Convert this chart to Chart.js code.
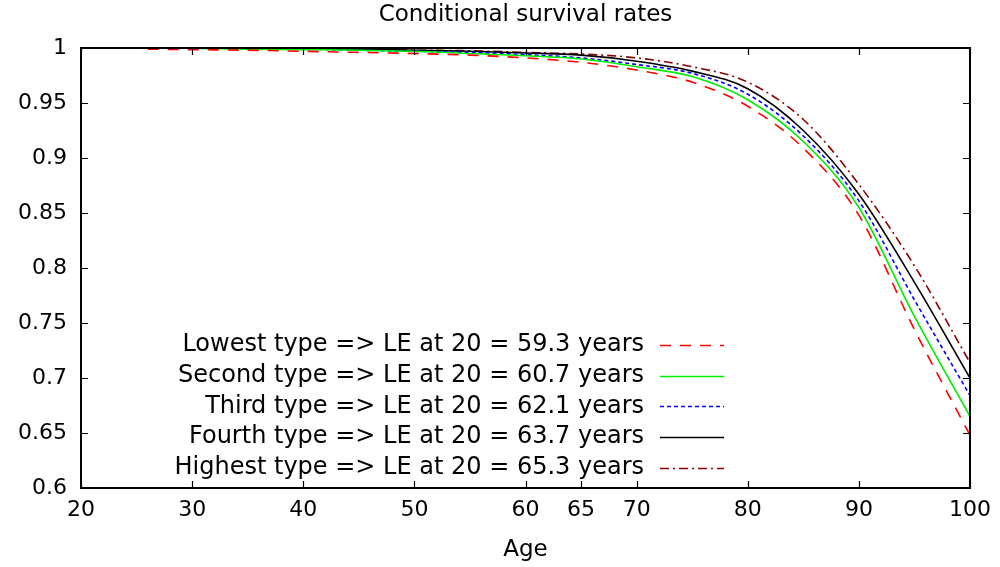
<!DOCTYPE html>
<html>
<head>
<meta charset="utf-8">
<script src="https://cdn.jsdelivr.net/npm/chart.js@4"></script>
<style>
  html, body { margin: 0; padding: 0; background: #fff; }
  #wrap { width: 1000px; height: 567px; }
</style>
</head>
<body>
<div id="wrap"><canvas id="survivalChart"></canvas></div>
<script>
// Conditional survival rates
const ages = [26, 30, 35, 40, 45, 50, 55, 60, 65, 70, 75, 80, 85, 90, 95, 100];
const lowest  = [0.999, 0.9985, 0.998, 0.997, 0.996, 0.995, 0.9935, 0.991, 0.987, 0.980, 0.969, 0.947, 0.909, 0.848, 0.744, 0.648];
const second  = [null, 0.9995, 0.999, 0.9985, 0.998, 0.997, 0.995, 0.993, 0.990, 0.983, 0.974, 0.953, 0.915, 0.855, 0.756, 0.665];
const third   = [null, null, 0.9995, 0.999, 0.998, 0.997, 0.996, 0.994, 0.991, 0.985, 0.977, 0.958, 0.920, 0.861, 0.771, 0.684];
const fourth  = [null, null, null, 0.9995, 0.999, 0.998, 0.997, 0.9955, 0.9935, 0.988, 0.979, 0.963, 0.925, 0.867, 0.787, 0.700];
const highest = [null, null, null, 0.9995, 0.999, 0.998, 0.9975, 0.996, 0.9945, 0.991, 0.983, 0.969, 0.935, 0.876, 0.802, 0.714];

const seriesLabels = [
  "Lowest type => LE at 20 = 59.3 years",
  "Second type => LE at 20 = 60.7 years",
  "Third type => LE at 20 = 62.1 years",
  "Fourth type => LE at 20 = 63.7 years",
  "Highest type => LE at 20 = 65.3 years",
];
const xTicks = [20, 30, 40, 50, 60, 65, 70, 80, 90, 100];

const FONT = "DejaVu Sans";

const toPoints = (vals) => ages.map((a, i) => ({ x: a, y: vals[i] }));

const styles = [
  { color: "#ff0000", dash: [11, 9] },
  { color: "#00ee00", dash: [] },
  { color: "#0000ff", dash: [4, 3] },
  { color: "#000000", dash: [] },
  { color: "#8b0000", dash: [9, 4, 2, 4] },
];

const datasets = [lowest, second, third, fourth, highest].map((vals, i) => ({
  label: seriesLabels[i],
  data: toPoints(vals),
  borderColor: styles[i].color,
  borderDash: styles[i].dash,
  borderWidth: 1.6,
  pointRadius: 0,
  fill: false,
  cubicInterpolationMode: "monotone",
  spanGaps: false,
}));

// gnuplot style frame with inward ticks (mirrored)
const framePlugin = {
  id: "frame",
  afterDraw(chart) {
    const { ctx, chartArea: a, scales } = chart;
    ctx.save();
    ctx.strokeStyle = "#000";
    ctx.lineWidth = 1.2;
    const t = 7;
    ctx.beginPath();
    scales.x.ticks.forEach((tk) => {
      const px = Math.round(scales.x.getPixelForValue(tk.value)) + 0.5;
      ctx.moveTo(px, a.bottom); ctx.lineTo(px, a.bottom - t);
      ctx.moveTo(px, a.top); ctx.lineTo(px, a.top + t);
    });
    scales.y.ticks.forEach((tk) => {
      const py = Math.round(scales.y.getPixelForValue(tk.value)) + 0.5;
      ctx.moveTo(a.left, py); ctx.lineTo(a.left + t, py);
      ctx.moveTo(a.right, py); ctx.lineTo(a.right - t, py);
    });
    ctx.stroke();
    ctx.lineWidth = 2;
    ctx.strokeRect(a.left, a.top, a.right - a.left, a.bottom - a.top);
    ctx.restore();
  },
};

// key inside the plot, text right aligned with the line sample after it
const keyPlugin = {
  id: "key",
  afterDraw(chart) {
    const { ctx } = chart;
    ctx.save();
    ctx.font = "24px '" + FONT + "'";
    ctx.textAlign = "right";
    ctx.textBaseline = "middle";
    chart.data.datasets.forEach((ds, i) => {
      const y = 345 + i * 30.7;
      ctx.fillStyle = "#000";
      ctx.fillText(ds.label, 644, y);
      ctx.beginPath();
      ctx.strokeStyle = ds.borderColor;
      ctx.lineWidth = 1.6;
      ctx.setLineDash(ds.borderDash || []);
      ctx.moveTo(660, Math.round(y) + 0.5);
      ctx.lineTo(724, Math.round(y) + 0.5);
      ctx.stroke();
    });
    ctx.restore();
  },
};

new Chart(document.getElementById("survivalChart").getContext("2d"), {
  type: "line",
  data: { datasets: datasets },
  options: {
    responsive: true,
    maintainAspectRatio: false,
    animation: false,
    layout: { padding: { left: 0, right: 25, top: 0, bottom: 0 } },
    plugins: {
      legend: { display: false },
      tooltip: { enabled: false },
      title: {
        display: true,
        text: "Conditional survival rates",
        color: "#000",
        fullSize: false,
        font: { family: FONT, size: 23, weight: "normal" },
        padding: { top: 1, bottom: 19.4 },
      },
    },
    scales: {
      x: {
        type: "linear",
        min: 20,
        max: 100,
        afterBuildTicks: (scale) => { scale.ticks = xTicks.map((v) => ({ value: v })); },
        afterFit: (scale) => { scale.height = 79; },
        grid: { display: false, drawTicks: false },
        border: { display: false },
        ticks: {
          autoSkip: false,
          maxRotation: 0,
          padding: 9,
          color: "#000",
          font: { family: FONT, size: 22 },
        },
        title: {
          display: true,
          text: "Age",
          color: "#000",
          font: { family: FONT, size: 23 },
          padding: { top: 0, bottom: 3 },
        },
      },
      y: {
        min: 0.6,
        max: 1,
        afterFit: (scale) => { scale.width = 81; },
        grid: { display: false, drawTicks: false },
        border: { display: false },
        ticks: {
          stepSize: 0.05,
          padding: 14,
          color: "#000",
          font: { family: FONT, size: 22 },
          callback: (v) => String(Number(v.toFixed(2))),
        },
      },
    },
  },
  plugins: [framePlugin, keyPlugin],
});
</script>
</body>
</html>
